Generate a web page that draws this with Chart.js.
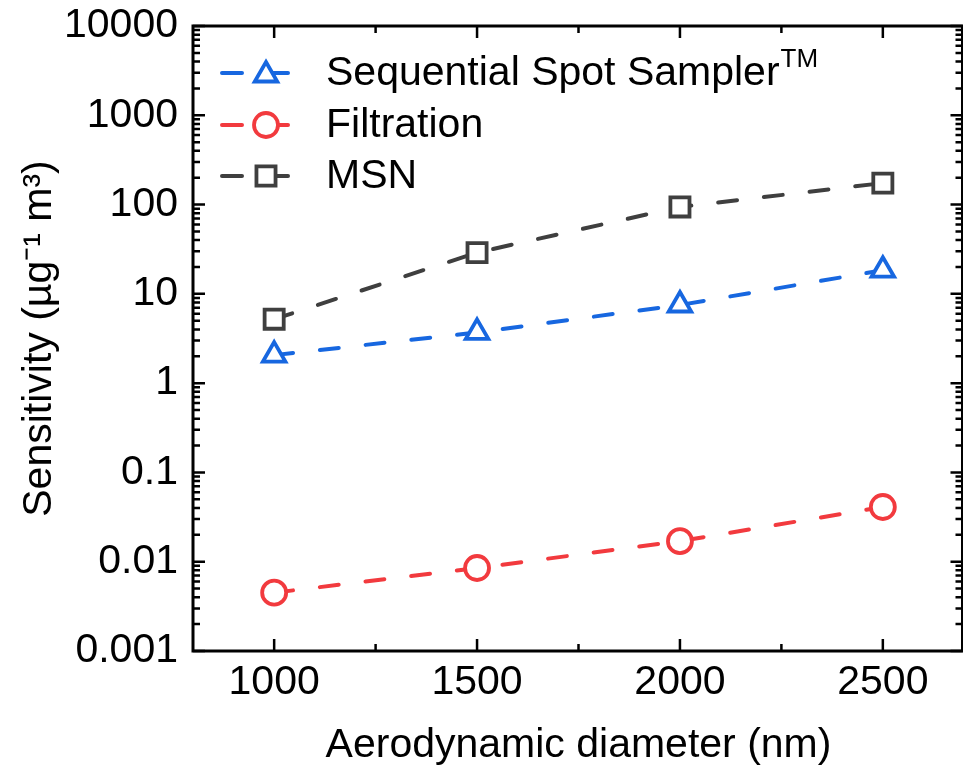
<!DOCTYPE html>
<html>
<head>
<meta charset="utf-8">
<script src="https://cdn.jsdelivr.net/npm/chart.js@4/dist/chart.umd.min.js"></script>
<style>
  html, body { margin: 0; padding: 0; background: #ffffff; overflow: hidden; }
  #wrap { width: 963px; height: 775px; position: relative; }
</style>
</head>
<body>
<div id="wrap"><canvas id="c" width="963" height="775"></canvas></div>
<script>
// ---- data ----
const diameters = [1000, 1500, 2000, 2500];
const sequentialSpotSampler = [2.06, 3.7, 7.5, 18.4];
const filtration = [0.0045, 0.0085, 0.017, 0.041];
const msn = [5.2, 29, 94, 174];

const seriesNames = ['Sequential Spot Sampler', 'Filtration', 'MSN'];
const xTickValues = [1000, 1500, 2000, 2500];
const xMinorTickValues = [1250, 1750, 2250];
const yTickValues = [0.001, 0.01, 0.1, 1, 10, 100, 1000, 10000];
const yTickLabels = ['0.001', '0.01', '0.1', '1', '10', '100', '1000', '10000'];
const xTitle = 'Aerodynamic diameter (nm)';
const yTitle = 'Sensitivity (\u00B5g\u207B\u00B9 m\u00B3)';

const FONT = '"Liberation Sans", Arial, sans-serif';
const FS = 41;
const BLUE = '#1767e0';
const RED = '#f23a3e';
const GREY = '#3f3f3f';

function toPoints(ys) { return diameters.map((d, i) => ({ x: d, y: ys[i] })); }

function dsStyle(color, shape, r) {
  return {
    borderColor: color,
    backgroundColor: '#ffffff',
    pointBackgroundColor: '#ffffff',
    pointBorderColor: color,
    pointBorderWidth: 3.8,
    pointStyle: shape,
    pointRadius: r,
    pointHoverRadius: r,
    borderWidth: 4,
    borderDash: [19, 27],
    borderCapStyle: 'round',
    fill: false,
    tension: 0
  };
}

// stretch the plot area to the right edge of the canvas (as in the reference)
const areaPlugin = {
  id: 'areaFix',
  afterLayout(chart) {
    const a = chart.chartArea, x = chart.scales.x;
    a.right = chart.width + 1;
    a.width = a.right - a.left;
    x.right = a.right;
    x.width = a.width;
    x.configure();
  }
};

// frame + inward ticks on all four sides
const framePlugin = {
  id: 'frame',
  beforeDatasetsDraw(chart) {
    const { ctx, chartArea: a, scales } = chart;
    const xs = scales.x, ys = scales.y;
    ctx.save();
    ctx.strokeStyle = '#000';
    ctx.lineCap = 'butt';
    ctx.lineWidth = 2.5;
    const major = 12, minor = 7;
    const rightX = a.right - 1.5;
    ctx.beginPath();
    xTickValues.forEach(v => {
      const px = xs.getPixelForValue(v);
      ctx.moveTo(px, a.bottom); ctx.lineTo(px, a.bottom - major);
      ctx.moveTo(px, a.top); ctx.lineTo(px, a.top + major);
    });
    xMinorTickValues.forEach(v => {
      const px = xs.getPixelForValue(v);
      ctx.moveTo(px, a.bottom); ctx.lineTo(px, a.bottom - minor);
      ctx.moveTo(px, a.top); ctx.lineTo(px, a.top + minor);
    });
    yTickValues.forEach((v, i) => {
      const py = ys.getPixelForValue(v);
      ctx.moveTo(a.left, py); ctx.lineTo(a.left + major, py);
      ctx.moveTo(rightX, py); ctx.lineTo(rightX - major, py);
      if (i < yTickValues.length - 1) {
        for (let k = 2; k <= 9; k++) {
          const pm = ys.getPixelForValue(v * k);
          ctx.moveTo(a.left, pm); ctx.lineTo(a.left + minor, pm);
          ctx.moveTo(rightX, pm); ctx.lineTo(rightX - minor, pm);
        }
      }
    });
    ctx.stroke();
    ctx.lineWidth = 3;
    ctx.strokeRect(a.left, a.top, rightX - a.left, a.bottom - a.top);
    ctx.restore();
  }
};

function drawMarker(ctx, shape, x, y, r) {
  ctx.beginPath();
  if (shape === 'circle') {
    ctx.arc(x, y, r, 0, Math.PI * 2);
  } else if (shape === 'triangle') {
    let rad = 0;
    ctx.moveTo(x + Math.sin(rad) * r, y - Math.cos(rad) * r);
    rad += 2 * Math.PI / 3;
    ctx.lineTo(x + Math.sin(rad) * r, y - Math.cos(rad) * r);
    rad += 2 * Math.PI / 3;
    ctx.lineTo(x + Math.sin(rad) * r, y - Math.cos(rad) * r);
    ctx.closePath();
  } else {
    const s = r * Math.SQRT1_2;
    ctx.rect(x - s, y - s, 2 * s, 2 * s);
  }
  ctx.fill();
  ctx.stroke();
}

// legend drawn inside the plot, top-left
const legendPlugin = {
  id: 'customLegend',
  afterDraw(chart) {
    const { ctx } = chart;
    const rows = [73, 125, 176];
    ctx.save();
    chart.data.datasets.forEach((ds, i) => {
      const y = rows[i];
      ctx.strokeStyle = ds.borderColor;
      ctx.lineWidth = 4;
      ctx.lineCap = 'round';
      ctx.setLineDash([]);
      ctx.beginPath();
      ctx.moveTo(222, y); ctx.lineTo(242, y);
      ctx.moveTo(268, y); ctx.lineTo(288, y);
      ctx.stroke();
      ctx.fillStyle = '#ffffff';
      ctx.lineWidth = 3.8;
      ctx.lineCap = 'butt';
      drawMarker(ctx, ds.pointStyle, 266, i === 0 ? y + 2 : y, ds.pointRadius);
      ctx.fillStyle = '#000';
      ctx.font = FS + 'px ' + FONT;
      ctx.textBaseline = 'middle';
      ctx.textAlign = 'left';
      ctx.fillText(ds.label, 326, y + 1);
      if (i === 0) {
        const w = ctx.measureText(ds.label).width;
        ctx.font = '26px ' + FONT;
        ctx.fillText('TM', 326 + w + 1, y - 13);
      }
    });
    ctx.restore();
  }
};

new Chart(document.getElementById('c'), {
  type: 'line',
  data: {
    datasets: [
      Object.assign({ label: seriesNames[0], data: toPoints(sequentialSpotSampler) }, dsStyle(BLUE, 'triangle', 13)),
      Object.assign({ label: seriesNames[1], data: toPoints(filtration) }, dsStyle(RED, 'circle', 12)),
      Object.assign({ label: seriesNames[2], data: toPoints(msn) }, dsStyle(GREY, 'rect', 13.5))
    ]
  },
  options: {
    responsive: false,
    animation: false,
    devicePixelRatio: 1,
    layout: { padding: { top: 26, right: 0, left: 0, bottom: 0 } },
    plugins: { legend: { display: false }, tooltip: { enabled: false } },
    scales: {
      x: {
        type: 'linear',
        min: 800,
        max: 2700,
        grid: { display: false, drawTicks: false },
        border: { display: false },
        afterBuildTicks(scale) { scale.ticks = xTickValues.map(v => ({ value: v })); },
        afterFit(scale) {
          scale.height = 124;
          scale.paddingLeft = 0; scale.paddingRight = 0;
        },
        ticks: {
          color: '#000',
          padding: 7,
          maxRotation: 0,
          font: { family: FONT, size: FS },
          callback: v => String(v)
        },
        title: {
          display: true,
          text: xTitle,
          color: '#000',
          font: { family: FONT, size: FS },
          padding: { top: 0, bottom: 5 }
        }
      },
      y: {
        type: 'logarithmic',
        min: 0.001,
        max: 10000,
        grid: { display: false, drawTicks: false },
        border: { display: false },
        afterBuildTicks(scale) { scale.ticks = yTickValues.map(v => ({ value: v })); },
        afterFit(scale) {
          scale.width = 193;
          scale.paddingTop = 0; scale.paddingBottom = 0;
        },
        ticks: {
          color: '#000',
          padding: 15,
          font: { family: FONT, size: FS },
          callback: v => {
            const i = yTickValues.findIndex(t => Math.abs(Math.log10(t) - Math.log10(v)) < 1e-6);
            return i >= 0 ? yTickLabels[i] : '';
          }
        },
        title: {
          display: true,
          text: yTitle,
          color: '#000',
          font: { family: FONT, size: FS },
          padding: { top: 15, bottom: 0 }
        }
      }
    }
  },
  plugins: [areaPlugin, framePlugin, legendPlugin]
});
</script>
</body>
</html>
